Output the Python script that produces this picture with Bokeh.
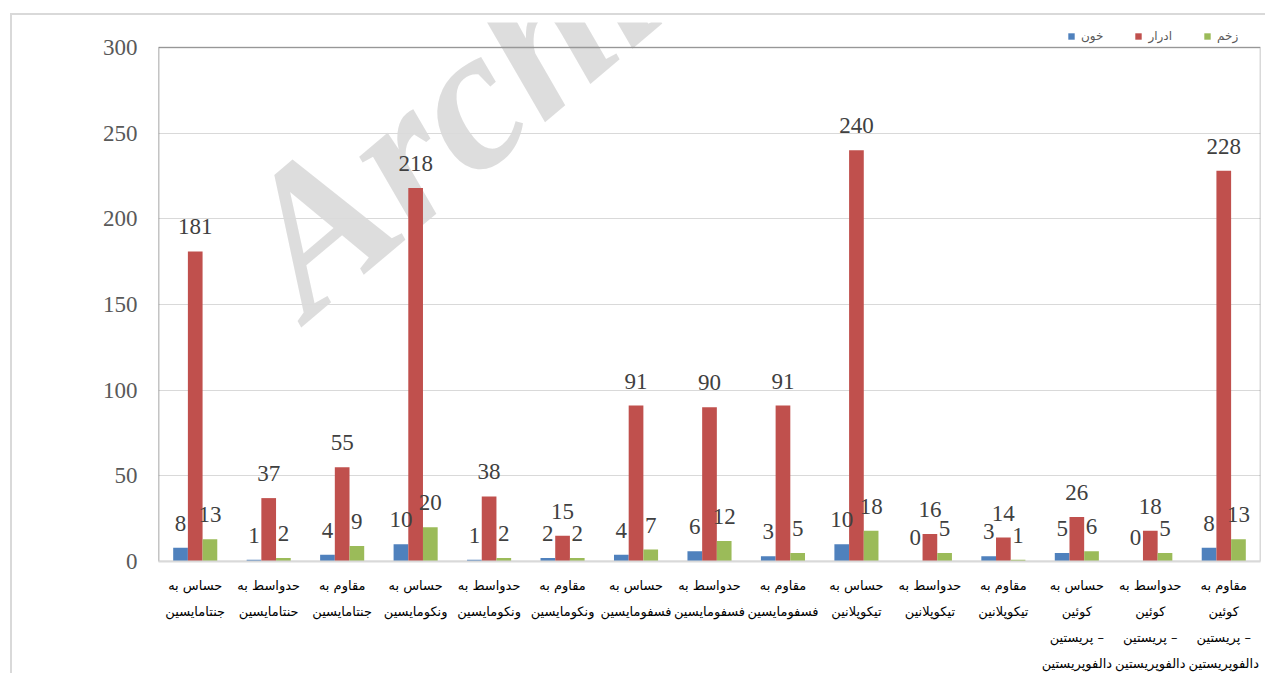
from bokeh.plotting import figure
from bokeh.models import (ColumnDataSource, FactorRange, Range1d, LabelSet, Legend,
                          LegendItem, Label, FixedTicker, BoxAnnotation)
from bokeh.transform import dodge
from bokeh.embed import file_html
from bokeh.resources import INLINE
from bokeh.core.properties import value

categories = [
    "حساس به\nجنتامایسین",
    "حدواسط به\nحنتامایسین",
    "مقاوم به\nجنتامایسین",
    "حساس به\nونکومایسین",
    "حدواسط به\nونکومایسین",
    "مقاوم به\nونکومایسین",
    "حساس به\nفسفومایسین",
    "حدواسط به\nفسفومایسین",
    "مقاوم به\nفسفومایسین",
    "حساس به\nتیکوپلانین",
    "حدواسط به\nتیکوپلانین",
    "مقاوم به\nتیکوپلانین",
    "حساس به\nکوئین\nپریستین –\nدالفوپریستین",
    "حدواسط به\nکوئین\nپریستین –\nدالفوپریستین",
    "مقاوم به\nکوئین\nپریستین –\nدالفوپریستین",
]
blood = [8, 1, 4, 10, 1, 2, 4, 6, 3, 10, 0, 3, 5, 0, 8]
urine = [181, 37, 55, 218, 38, 15, 91, 90, 91, 240, 16, 14, 26, 18, 228]
wound = [13, 2, 9, 20, 2, 2, 7, 12, 5, 18, 5, 1, 6, 5, 13]
series_names = ["خون", "ادرار", "زخم"]
series_keys = ["blood", "urine", "wound"]
colors = ["#4F81BD", "#C0504D", "#9BBB59"]
offsets = [-0.2, 0.0, 0.2]
y_ticks = [0, 50, 100, 150, 200, 250, 300]

src = ColumnDataSource(dict(
    cat=categories,
    blood=blood, urine=urine, wound=wound,
    blood_t=[str(v) for v in blood],
    urine_t=[str(v) for v in urine],
    wound_t=[str(v) for v in wound],
))

# frame is 539 px tall; the value axis (0..300) occupies the lower 514 px,
# the strip above holds the legend
y_max = y_ticks[-1]
y_end = y_max * 539 / 514

p = figure(x_range=FactorRange(factors=categories), y_range=Range1d(0, y_end),
           width=1255, height=660, output_backend="svg", toolbar_location=None,
           min_border_left=146, min_border_right=7, min_border_top=7,
           min_border_bottom=114)
p.styles = {"margin-left": "10px", "margin-top": "13px",
            "border-left": "2px solid #d9d9d9", "border-top": "2px solid #d9d9d9"}

wm = Label(x=179, y=207, x_units="screen", y_units="screen", text="Archive of SID",
           angle=0.7, text_font="Liberation Serif", text_font_style="bold italic",
           text_font_size="203px", text_color="#d9d9d9", text_alpha=0.9, level="underlay")
p.add_layout(wm)

# plot-area border (top and right black; left/bottom covered by the axes)
box = BoxAnnotation(left=0, right=len(categories), bottom=0, top=y_max,
                    fill_alpha=0, line_color="black", line_width=1.5, level="underlay")
p.add_layout(box)

items = []
for key, off, col, name in zip(series_keys, offsets, colors, series_names):
    r = p.vbar(x=dodge("cat", off, range=p.x_range), top=key, width=0.2, source=src,
               fill_color=col, line_color=None)
    items.append(LegendItem(label=name, renderers=[r]))
    lbl = LabelSet(x=dodge("cat", off, range=p.x_range), y=key, text=key + "_t",
                   source=src, text_align="center", text_baseline="bottom", y_offset=17,
                   text_font=value("Liberation Serif"), text_font_size=value("23px"),
                   text_color="#404040")
    p.add_layout(lbl)

legend = Legend(items=items, orientation="horizontal", location=(909, 517),
                glyph_width=8, glyph_height=8, label_standoff=6, spacing=31,
                label_height=16, padding=0, margin=0, border_line_color=None,
                background_fill_alpha=0,
                label_text_font="DejaVu Sans", label_text_font_size="12px",
                label_text_color="#595959")
p.add_layout(legend)

p.xaxis.axis_line_color = "#d9d9d9"
p.xaxis.axis_line_width = 2
p.xaxis.major_tick_line_color = None
p.xaxis.minor_tick_line_color = None
p.xaxis.major_label_text_font = "DejaVu Sans"
p.xaxis.major_label_text_font_size = "13px"
p.xaxis.major_label_text_color = "black"
p.xaxis.major_label_text_line_height = 1.75
p.xaxis.major_label_standoff = 10
p.xaxis.major_label_orientation = "horizontal"

p.yaxis.ticker = FixedTicker(ticks=y_ticks)
p.yaxis.axis_line_color = None
p.yaxis.major_tick_line_color = None
p.yaxis.minor_tick_line_color = None
p.yaxis.major_label_text_font = "Liberation Serif"
p.yaxis.major_label_text_font_size = "23px"
p.yaxis.major_label_text_color = "#595959"
p.yaxis.major_label_standoff = 15

# left value-axis line only up to 300
left_line = BoxAnnotation(left=0, right=0.0001, bottom=0, top=y_max, fill_color="#595959",
                          fill_alpha=1, line_color="#595959", line_width=1.5, level="underlay")
p.add_layout(left_line)

p.xgrid.visible = False
p.ygrid.ticker = FixedTicker(ticks=y_ticks)
p.ygrid.grid_line_color = "#d9d9d9"
p.outline_line_color = None

open("out.html", "w").write(file_html(p, INLINE))
